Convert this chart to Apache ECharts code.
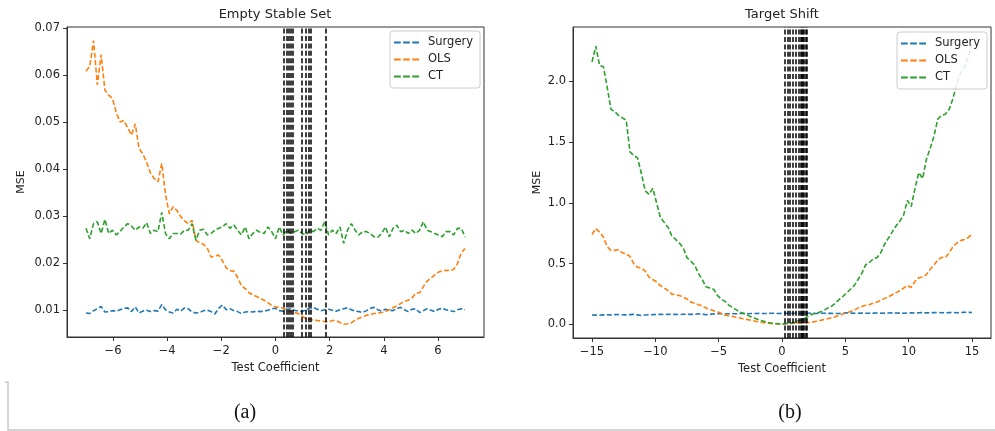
<!DOCTYPE html>
<html><head><meta charset="utf-8">
<script src="https://cdn.jsdelivr.net/npm/echarts@6/dist/echarts.min.js"></script>
<style>html,body{margin:0;padding:0;background:#fff}#c{width:995px;height:431px}</style>
</head><body><div id="c"></div>
<script>
// ---------- Panel (a): Empty Stable Set ----------
const xsA = [-7, -6.86, -6.72, -6.58, -6.44, -6.3, -6.16, -6.02, -5.88, -5.74, -5.6, -5.46, -5.32, -5.18, -5.04, -4.9, -4.76, -4.62, -4.48, -4.34, -4.2, -4.06, -3.92, -3.78, -3.64, -3.5, -3.36, -3.22, -3.08, -2.94, -2.8, -2.66, -2.52, -2.38, -2.24, -2.1, -1.96, -1.82, -1.68, -1.54, -1.4, -1.26, -1.12, -0.98, -0.84, -0.7, -0.56, -0.42, -0.28, -0.14, 0, 0.14, 0.28, 0.42, 0.56, 0.7, 0.84, 0.98, 1.12, 1.26, 1.4, 1.54, 1.68, 1.82, 1.96, 2.1, 2.24, 2.38, 2.52, 2.66, 2.8, 2.94, 3.08, 3.22, 3.36, 3.5, 3.64, 3.78, 3.92, 4.06, 4.2, 4.34, 4.48, 4.62, 4.76, 4.9, 5.04, 5.18, 5.32, 5.46, 5.6, 5.74, 5.88, 6.02, 6.16, 6.3, 6.44, 6.58, 6.72, 6.86, 7];
const surgeryA = [0.0094, 0.0093, 0.0099, 0.0103, 0.0108, 0.0096, 0.0097, 0.0099, 0.0098, 0.0101, 0.0104, 0.0105, 0.0097, 0.0107, 0.0094, 0.0098, 0.0100, 0.0097, 0.0099, 0.0098, 0.0112, 0.0101, 0.0096, 0.0094, 0.0102, 0.0098, 0.0105, 0.0103, 0.0096, 0.0094, 0.0095, 0.0099, 0.0100, 0.0097, 0.0092, 0.0104, 0.0111, 0.0101, 0.0103, 0.0099, 0.0097, 0.0093, 0.0096, 0.0097, 0.0096, 0.0098, 0.0097, 0.0098, 0.0100, 0.0103, 0.0104, 0.0099, 0.0098, 0.0102, 0.0103, 0.0100, 0.0098, 0.0097, 0.0101, 0.0104, 0.0106, 0.0102, 0.0099, 0.0101, 0.0102, 0.0100, 0.0098, 0.0101, 0.0103, 0.0105, 0.0101, 0.0098, 0.0097, 0.0095, 0.0099, 0.0104, 0.0106, 0.0101, 0.0098, 0.0102, 0.0100, 0.0099, 0.0103, 0.0106, 0.0101, 0.0097, 0.0102, 0.0103, 0.0095, 0.0099, 0.0103, 0.0100, 0.0097, 0.0102, 0.0104, 0.0101, 0.0099, 0.0097, 0.0101, 0.0103, 0.0101];
const olsA = [0.0608, 0.0618, 0.0673, 0.0579, 0.0643, 0.0568, 0.0557, 0.0550, 0.0520, 0.0500, 0.0503, 0.0488, 0.0472, 0.0496, 0.0444, 0.0432, 0.0415, 0.0392, 0.0380, 0.0373, 0.0412, 0.0345, 0.0305, 0.0320, 0.0312, 0.0299, 0.0290, 0.0284, 0.0291, 0.0249, 0.0243, 0.0240, 0.0232, 0.0213, 0.0215, 0.0217, 0.0205, 0.0190, 0.0184, 0.0183, 0.0170, 0.0152, 0.0146, 0.0137, 0.0133, 0.0129, 0.0125, 0.0121, 0.0116, 0.0110, 0.0107, 0.0106, 0.0104, 0.0101, 0.0097, 0.0095, 0.0093, 0.0087, 0.0082, 0.0081, 0.0079, 0.0078, 0.0077, 0.0076, 0.0075, 0.0078, 0.0078, 0.0074, 0.0070, 0.0071, 0.0073, 0.0079, 0.0083, 0.0086, 0.0089, 0.0091, 0.0093, 0.0094, 0.0095, 0.0097, 0.0101, 0.0105, 0.0109, 0.0114, 0.0119, 0.0121, 0.0126, 0.0136, 0.0137, 0.0150, 0.0162, 0.0168, 0.0175, 0.0181, 0.0184, 0.0185, 0.0184, 0.0187, 0.0199, 0.0222, 0.0231];
const ctA = [0.0274, 0.0252, 0.0284, 0.0288, 0.0263, 0.0293, 0.0263, 0.0270, 0.0260, 0.0267, 0.0277, 0.0284, 0.0279, 0.0270, 0.0277, 0.0274, 0.0286, 0.0263, 0.0270, 0.0267, 0.0308, 0.0262, 0.0252, 0.0263, 0.0263, 0.0262, 0.0270, 0.0270, 0.0284, 0.0249, 0.0270, 0.0272, 0.0260, 0.0263, 0.0270, 0.0274, 0.0277, 0.0284, 0.0274, 0.0281, 0.0270, 0.0260, 0.0277, 0.0252, 0.0263, 0.0270, 0.0265, 0.0263, 0.0277, 0.0267, 0.0252, 0.0277, 0.0260, 0.0270, 0.0263, 0.0267, 0.0270, 0.0263, 0.0260, 0.0270, 0.0267, 0.0274, 0.0270, 0.0288, 0.0260, 0.0270, 0.0263, 0.0277, 0.0242, 0.0270, 0.0284, 0.0270, 0.0260, 0.0267, 0.0267, 0.0263, 0.0256, 0.0255, 0.0263, 0.0277, 0.0256, 0.0274, 0.0281, 0.0267, 0.0270, 0.0263, 0.0270, 0.0263, 0.0270, 0.0288, 0.0270, 0.0267, 0.0263, 0.0260, 0.0256, 0.0267, 0.0267, 0.0260, 0.0274, 0.0274, 0.0256];
const vlinesA = [0.29, 0.40, 0.50, 0.58, 0.65, 0.98, 1.12, 1.22, 1.30, 1.86];
const xTicksA = [-6, -4, -2, 0, 2, 4, 6];
const yTicksA = [0.01, 0.02, 0.03, 0.04, 0.05, 0.06, 0.07];

// ---------- Panel (b): Target Shift ----------
const xsB = [-15, -14.7, -14.4, -14.1, -13.8, -13.5, -13.2, -12.9, -12.6, -12.3, -12, -11.7, -11.4, -11.1, -10.8, -10.5, -10.2, -9.9, -9.6, -9.3, -9, -8.7, -8.4, -8.1, -7.8, -7.5, -7.2, -6.9, -6.6, -6.3, -6, -5.7, -5.4, -5.1, -4.8, -4.5, -4.2, -3.9, -3.6, -3.3, -3, -2.7, -2.4, -2.1, -1.8, -1.5, -1.2, -0.9, -0.6, -0.3, 0, 0.3, 0.6, 0.9, 1.2, 1.5, 1.8, 2.1, 2.4, 2.7, 3, 3.3, 3.6, 3.9, 4.2, 4.5, 4.8, 5.1, 5.4, 5.7, 6, 6.3, 6.6, 6.9, 7.2, 7.5, 7.8, 8.1, 8.4, 8.7, 9, 9.3, 9.6, 9.9, 10.2, 10.5, 10.8, 11.1, 11.4, 11.7, 12, 12.3, 12.6, 12.9, 13.2, 13.5, 13.8, 14.1, 14.4, 14.7, 15];
const surgeryB = [0.078, 0.077, 0.076, 0.079, 0.080, 0.079, 0.081, 0.082, 0.080, 0.079, 0.081, 0.083, 0.079, 0.074, 0.078, 0.080, 0.081, 0.083, 0.084, 0.082, 0.083, 0.084, 0.083, 0.082, 0.084, 0.085, 0.083, 0.084, 0.088, 0.086, 0.080, 0.083, 0.087, 0.089, 0.090, 0.087, 0.088, 0.089, 0.088, 0.090, 0.091, 0.089, 0.090, 0.091, 0.092, 0.090, 0.091, 0.092, 0.093, 0.091, 0.092, 0.093, 0.091, 0.092, 0.093, 0.090, 0.091, 0.092, 0.093, 0.091, 0.092, 0.093, 0.091, 0.092, 0.090, 0.091, 0.093, 0.096, 0.094, 0.092, 0.093, 0.094, 0.092, 0.093, 0.094, 0.095, 0.093, 0.094, 0.095, 0.096, 0.095, 0.094, 0.093, 0.095, 0.096, 0.094, 0.097, 0.098, 0.096, 0.097, 0.098, 0.099, 0.097, 0.096, 0.098, 0.100, 0.097, 0.099, 0.101, 0.100, 0.099];
const olsB = [0.74, 0.79, 0.76, 0.72, 0.64, 0.61, 0.61, 0.615, 0.59, 0.58, 0.56, 0.50, 0.47, 0.465, 0.44, 0.39, 0.37, 0.35, 0.32, 0.30, 0.28, 0.25, 0.245, 0.238, 0.225, 0.21, 0.185, 0.175, 0.163, 0.155, 0.135, 0.125, 0.113, 0.105, 0.09, 0.077, 0.072, 0.066, 0.06, 0.053, 0.045, 0.04, 0.033, 0.027, 0.02, 0.016, 0.012, 0.009, 0.006, 0.005, 0.005, 0.007, 0.009, 0.010, 0.011, 0.012, 0.014, 0.017, 0.02, 0.026, 0.033, 0.04, 0.047, 0.056, 0.064, 0.075, 0.086, 0.095, 0.106, 0.118, 0.135, 0.148, 0.158, 0.165, 0.175, 0.185, 0.198, 0.215, 0.228, 0.245, 0.262, 0.278, 0.30, 0.322, 0.305, 0.355, 0.385, 0.39, 0.41, 0.455, 0.49, 0.53, 0.552, 0.55, 0.59, 0.64, 0.67, 0.69, 0.70, 0.715, 0.745];
const ctB = [2.16, 2.29, 2.13, 2.12, 1.95, 1.77, 1.75, 1.72, 1.70, 1.68, 1.42, 1.39, 1.37, 1.24, 1.10, 1.07, 1.12, 1.00, 0.88, 0.84, 0.80, 0.73, 0.70, 0.67, 0.63, 0.55, 0.52, 0.49, 0.42, 0.37, 0.31, 0.30, 0.29, 0.24, 0.21, 0.19, 0.16, 0.14, 0.12, 0.10, 0.09, 0.075, 0.062, 0.05, 0.038, 0.028, 0.019, 0.013, 0.009, 0.006, 0.005, 0.006, 0.01, 0.016, 0.026, 0.036, 0.052, 0.07, 0.085, 0.095, 0.102, 0.115, 0.135, 0.15, 0.175, 0.205, 0.23, 0.26, 0.29, 0.32, 0.37, 0.42, 0.49, 0.51, 0.54, 0.55, 0.59, 0.66, 0.71, 0.76, 0.81, 0.85, 0.90, 1.02, 0.97, 1.12, 1.25, 1.20, 1.36, 1.45, 1.55, 1.69, 1.72, 1.73, 1.77, 1.86, 1.98, 2.07, 2.12, 2.20, 2.30];
const vlinesB = [0.2, 0.42, 0.65, 0.88, 1.1, 1.3, 1.45, 1.55, 1.65, 1.75, 1.85, 1.95];
const xTicksB = [-15, -10, -5, 0, 5, 10, 15];
const yTicksB = [0, 0.5, 1, 1.5, 2];

const names = ['Surgery', 'OLS', 'CT'];
const colors = ['#1f77b4', '#ff7f0e', '#2ca02c'];
const titles = ['Empty Stable Set', 'Target Shift'];
const panelLabels = ['(a)', '(b)'];

const FONT = 'DejaVu Sans';
const TXT = '#222';
const DASH = [5, 2.4];
const minusFmt = v => (v < 0 ? '\u2212' + Math.abs(v) : String(v));

function xAxisCfg(gi, min, max, ticks) {
  return {
    type: 'value', gridIndex: gi, min: min, max: max,
    name: 'Test Coefficient', nameLocation: 'middle', nameGap: 23,
    nameTextStyle: { fontFamily: FONT, fontSize: 11.5, color: TXT },
    axisLine: { show: true, onZero: false, lineStyle: { color: '#333', width: 1 } },
    axisTick: { show: true, length: 4, inside: false, customValues: ticks, lineStyle: { color: '#333' } },
    axisLabel: { customValues: ticks, formatter: minusFmt, margin: 8, fontFamily: FONT, fontSize: 11.5, color: TXT },
    splitLine: { show: false }
  };
}
function yAxisCfg(gi, min, max, ticks, dec, gap) {
  return {
    type: 'value', gridIndex: gi, min: min, max: max,
    name: 'MSE', nameLocation: 'middle', nameGap: gap,
    nameTextStyle: { fontFamily: FONT, fontSize: 11, color: TXT },
    axisLine: { show: true, onZero: false, lineStyle: { color: '#333', width: 1 } },
    axisTick: { show: true, length: 4, inside: false, customValues: ticks, lineStyle: { color: '#333' } },
    axisLabel: { customValues: ticks, formatter: v => v.toFixed(dec), margin: 7, fontFamily: FONT, fontSize: 11.5, color: TXT },
    splitLine: { show: false }
  };
}
function lineSeries(gi, xs, ys, k) {
  return {
    type: 'line', name: names[k], xAxisIndex: gi, yAxisIndex: gi,
    data: xs.map((x, i) => [x, ys[i]]),
    symbol: 'none', smooth: false, z: 2,
    lineStyle: { color: colors[k], width: 1.6, type: DASH },
    itemStyle: { color: colors[k] }
  };
}
function vlineSeries(gi, vals) {
  return {
    type: 'line', xAxisIndex: gi, yAxisIndex: gi, data: [], z: 5, silent: true,
    markLine: {
      silent: true, symbol: ['none', 'none'], label: { show: false },
      lineStyle: { color: '#000', width: 1.5, type: DASH },
      emphasis: { disabled: true },
      data: vals.map(v => ({ xAxis: v }))
    }
  };
}
function legendCfg(left, top) {
  return {
    left: left, top: top, orient: 'vertical', data: names,
    icon: 'path://M0,0H7V2H0Z M9.5,0H16.5V2H9.5Z M19,0H26V2H19Z',
    itemWidth: 25, itemHeight: 2, itemGap: 4,
    padding: [5, 7, 5, 4],
    borderColor: '#cccccc', borderWidth: 1, borderRadius: 3,
    backgroundColor: 'rgba(255,255,255,0.85)',
    textStyle: { fontFamily: FONT, fontSize: 11.5, color: TXT, lineHeight: 13, padding: [0, 0, 0, 4] },
    selectedMode: false
  };
}

const chart = echarts.init(document.getElementById('c'), null, { renderer: 'canvas' });
chart.setOption({
  animation: false,
  backgroundColor: '#fff',
  grid: [
    { left: 67, top: 27, width: 417, height: 310, show: true, borderColor: '#333', borderWidth: 1, backgroundColor: 'transparent' },
    { left: 573, top: 27, width: 418, height: 311, show: true, borderColor: '#333', borderWidth: 1, backgroundColor: 'transparent' }
  ],
  xAxis: [xAxisCfg(0, -7.7, 7.7, xTicksA), xAxisCfg(1, -16.5, 16.5, xTicksB)],
  yAxis: [yAxisCfg(0, 0.0043, 0.0702, yTicksA, 2, 40), yAxisCfg(1, -0.111, 2.447, yTicksB, 1, 30)],
  legend: [legendCfg(390, 31), legendCfg(897, 32)],
  series: [
    lineSeries(0, xsA, surgeryA, 0), lineSeries(0, xsA, olsA, 1), lineSeries(0, xsA, ctA, 2),
    vlineSeries(0, vlinesA),
    lineSeries(1, xsB, surgeryB, 0), lineSeries(1, xsB, olsB, 1), lineSeries(1, xsB, ctB, 2),
    vlineSeries(1, vlinesB)
  ],
  graphic: [
    { type: 'text', x: 275, y: 15, style: { text: titles[0], textAlign: 'center', textVerticalAlign: 'middle', fontFamily: FONT, fontSize: 13, fill: TXT } },
    { type: 'text', x: 782, y: 15, style: { text: titles[1], textAlign: 'center', textVerticalAlign: 'middle', fontFamily: FONT, fontSize: 13, fill: TXT } },
    { type: 'text', x: 245, y: 413, style: { text: panelLabels[0], textAlign: 'center', textVerticalAlign: 'middle', fontFamily: 'Liberation Serif', fontSize: 20, fill: '#111' } },
    { type: 'text', x: 790, y: 413, style: { text: panelLabels[1], textAlign: 'center', textVerticalAlign: 'middle', fontFamily: 'Liberation Serif', fontSize: 20, fill: '#111' } },
    { type: 'polyline', shape: { points: [[5, 382], [8, 382], [8, 430], [995, 430]] }, style: { stroke: '#c8c8c8', lineWidth: 1.5, fill: null } }
  ]
});
</script>
</body></html>
